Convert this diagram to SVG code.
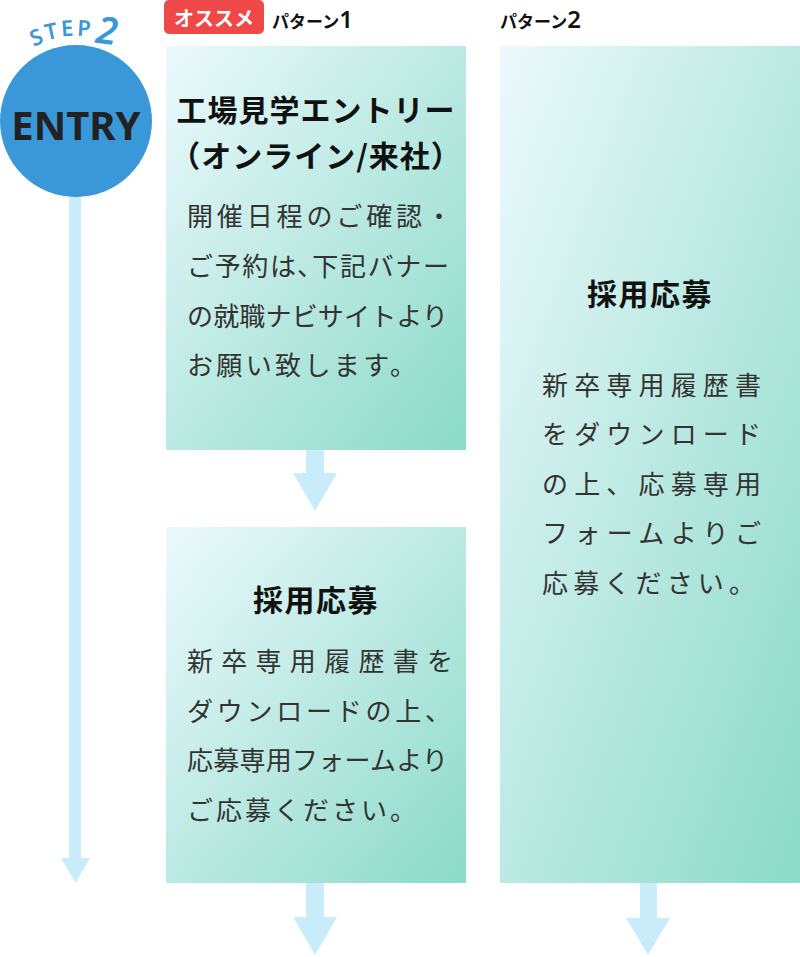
<svg xmlns="http://www.w3.org/2000/svg" width="800" height="957" viewBox="0 0 800 957">
<style>
.jp{font-family:"Noto Sans CJK JP","Noto Sans",sans-serif}
.body{font-size:26px;fill:#333}
.ttl{font-size:30px;font-weight:bold;fill:#111}
.arr{fill:#c9ecfb}
.lbl{font-size:17px;font-weight:bold;fill:#111}
.num{font-family:"Noto Sans",sans-serif;font-size:24px;font-weight:600;fill:#111}
.step{font-family:"Noto Sans",sans-serif;font-weight:600;fill:#3a98d8}
</style>
<defs>
<linearGradient id="g" x1="0" y1="0" x2="1" y2="1">
<stop offset="0" stop-color="#ecf9fd"/>
<stop offset="1" stop-color="#8bdac8"/>
</linearGradient>
</defs>

<g id="connectors">
<rect class="arr" x="69" y="190" width="12" height="670"/>
<polygon class="arr" points="61,858 90,858 75.5,883"/>
<rect class="arr" x="306" y="449" width="18" height="25"/>
<polygon class="arr" points="293,473 337,473 315,511"/>
<rect class="arr" x="306" y="882" width="18" height="36"/>
<polygon class="arr" points="293,917 337,917 315,955"/>
<rect class="arr" x="640" y="882" width="17" height="37"/>
<polygon class="arr" points="626,918 670,918 648,955"/>
</g>

<g id="step">
<circle cx="76" cy="121" r="76" fill="#3a98d8"/>
<text class="step" font-size="22" x="36" y="45" text-anchor="middle" transform="rotate(-22 36 37)">S</text>
<text class="step" font-size="22" x="51" y="39" text-anchor="middle" transform="rotate(-12 51 31)">T</text>
<text class="step" font-size="22" x="67" y="36" text-anchor="middle" transform="rotate(-4 67 28)">E</text>
<text class="step" font-size="22" x="84" y="36" text-anchor="middle" transform="rotate(4 84 28)">P</text>
<text class="step" font-size="38" font-style="italic" x="107" y="44" text-anchor="middle" transform="rotate(8 107 30)">2</text>
<text x="76" y="140" text-anchor="middle" font-family="'Noto Sans',sans-serif" font-weight="bold" font-size="40" fill="#222">ENTRY</text>
</g>

<g id="tag">
<rect x="164" y="0" width="100" height="34" rx="5" fill="#ef4848"/>
<text class="jp" x="214" y="26" text-anchor="middle" font-size="20" font-weight="bold" fill="#fff">オススメ</text>
<text class="jp lbl" x="272" y="28">パターン<tspan class="num">1</tspan></text>
</g>

<g id="pattern2-label">
<text class="jp lbl" x="500" y="28">パターン<tspan class="num">2</tspan></text>
</g>

<g id="box1">
<rect x="166" y="46" width="300" height="404" fill="url(#g)"/>
<text class="jp ttl" x="316" y="121" text-anchor="middle" letter-spacing="1">工場見学エントリー</text>
<text class="jp ttl" x="316" y="167" text-anchor="middle" letter-spacing="1">（オンライン/来社）</text>
<text class="jp body" x="187" y="226" textLength="265" lengthAdjust="spacing">開催日程のご確認・</text>
<text class="jp body" x="187" y="276" textLength="262" lengthAdjust="spacing">ご予約は､下記バナー</text>
<text class="jp body" x="187" y="326" textLength="261" lengthAdjust="spacing">の就職ナビサイトより</text>
<text class="jp body" x="187" y="375" textLength="229" lengthAdjust="spacing">お願い致します。</text>
</g>

<g id="box2">
<rect x="166" y="527" width="300" height="356" fill="url(#g)"/>
<text class="jp ttl" x="316" y="611" text-anchor="middle" letter-spacing="1.5">採用応募</text>
<text class="jp body" x="187" y="671" textLength="266" lengthAdjust="spacing">新卒専用履歴書を</text>
<text class="jp body" x="187" y="721" textLength="264" lengthAdjust="spacing">ダウンロードの上、</text>
<text class="jp body" x="187" y="770" textLength="261" lengthAdjust="spacing">応募専用フォームより</text>
<text class="jp body" x="187" y="820" textLength="229" lengthAdjust="spacing">ご応募ください。</text>
</g>

<g id="box3">
<rect x="500" y="46" width="300" height="837" fill="url(#g)"/>
<text class="jp ttl" x="650" y="305" text-anchor="middle" letter-spacing="1.5">採用応募</text>
<text class="jp body" x="542" y="395" textLength="219" lengthAdjust="spacing">新卒専用履歴書</text>
<text class="jp body" x="542" y="444" textLength="219" lengthAdjust="spacing">をダウンロード</text>
<text class="jp body" x="542" y="494" textLength="219" lengthAdjust="spacing">の上、応募専用</text>
<text class="jp body" x="542" y="543" textLength="219" lengthAdjust="spacing">フォームよりご</text>
<text class="jp body" x="542" y="593" textLength="213" lengthAdjust="spacing">応募ください。</text>
</g>
</svg>
